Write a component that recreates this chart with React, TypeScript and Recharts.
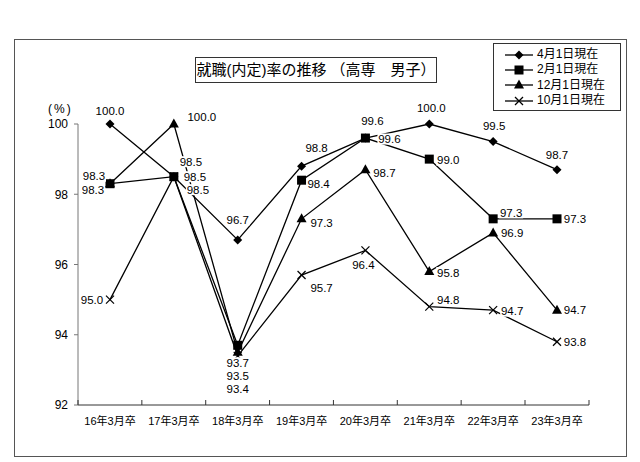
import { LineChart, Line, XAxis, YAxis, Legend } from "recharts";

// 卒業年度
const categories = [
  "16年3月卒",
  "17年3月卒",
  "18年3月卒",
  "19年3月卒",
  "20年3月卒",
  "21年3月卒",
  "22年3月卒",
  "23年3月卒",
];

// 各時点の就職（内定）率
const apr1 = [100.0, 98.5, 96.7, 98.8, 99.6, 100.0, 99.5, 98.7];
const feb1 = [98.3, 98.5, 93.7, 98.4, 99.6, 99.0, 97.3, 97.3];
const dec1 = [98.3, 100.0, 93.5, 97.3, 98.7, 95.8, 96.9, 94.7];
const oct1 = [95.0, 98.5, 93.4, 95.7, 96.4, 94.8, 94.7, 93.8];

const seriesNames = ["4月1日現在", "2月1日現在", "12月1日現在", "10月1日現在"];
const yTicks = [92, 94, 96, 98, 100];

const data = categories.map((name, i) => ({
  name,
  apr1: apr1[i],
  feb1: feb1[i],
  dec1: dec1[i],
  oct1: oct1[i],
}));

const KEYS = ["apr1", "feb1", "dec1", "oct1"];
const MARKERS = ["diamond", "square", "triangle", "cross"];
const HALF_BAND = 32;

// ラベル位置（点からのずれ）
const LABEL_OFFSETS: [number, number][][] = [
  [[0, -13], [17, -15], [0, -20], [15, -18], [7, -17], [2, -16], [1, -16], [0, -15]],
  [[-16, -7.5], [21, 0], [0, 17.5], [17, 4], [24, 1], [19, 1], [18, -6], [18, 0]],
  [[-17, 6], [28, -7], [0, 23.5], [20, 4], [19, 3], [19, 1], [19, 0], [18, 0]],
  [[-18, 0], [24, 13], [0, 33], [20, 13], [-2, 15], [19, -7], [19, 1], [18, 0]],
];

const FONT = '"Liberation Sans", "Noto Sans CJK JP", sans-serif';

const Marker = ({ kind, cx, cy }: { kind: string; cx: number; cy: number }) => {
  if (kind === "diamond") {
    const r = 4.5;
    return (
      <polygon
        points={`${cx},${cy - r} ${cx + r},${cy} ${cx},${cy + r} ${cx - r},${cy}`}
        fill="#000"
      />
    );
  }
  if (kind === "square") {
    return <rect x={cx - 4.5} y={cy - 4.5} width={9} height={9} fill="#000" />;
  }
  if (kind === "triangle") {
    return (
      <polygon
        points={`${cx},${cy - 5.5} ${cx + 5},${cy + 3.5} ${cx - 5},${cy + 3.5}`}
        fill="#000"
      />
    );
  }
  return (
    <g stroke="#000" strokeWidth={1.2}>
      <line x1={cx - 4} y1={cy - 4} x2={cx + 4} y2={cy + 4} />
      <line x1={cx - 4} y1={cy + 4} x2={cx + 4} y2={cy - 4} />
    </g>
  );
};

const makeDot = (s: number) => (p: any) => (
  <Marker key={`dot-${s}-${p.index}`} kind={MARKERS[s]} cx={p.cx} cy={p.cy} />
);

const makeLabel = (s: number) => (p: any) => {
  const [dx, dy] = LABEL_OFFSETS[s][p.index];
  const text = Number(p.payload[KEYS[s]]).toFixed(1);
  const w = text.length * 6;
  const x = p.cx + dx;
  const y = p.cy + dy;
  return (
    <g key={`lbl-${s}-${p.index}`}>
      <rect x={x - w / 2} y={y - 5.5} width={w} height={11} fill="#fff" />
      <text
        x={x}
        y={y}
        textAnchor="middle"
        dominantBaseline="central"
        fontSize={11.5}
        fontFamily={FONT}
        fill="#000"
      >
        {text}
      </text>
    </g>
  );
};

// 区切り目盛り付きのカテゴリラベル
const CategoryTick = (p: any) => {
  const last = p.index === categories.length - 1;
  return (
    <g>
      <line x1={p.x - HALF_BAND} y1={p.y} x2={p.x - HALF_BAND} y2={p.y - 5} stroke="#333" />
      {last && (
        <line x1={p.x + HALF_BAND} y1={p.y} x2={p.x + HALF_BAND} y2={p.y - 5} stroke="#333" />
      )}
      <text
        x={p.x}
        y={p.y + 16}
        textAnchor="middle"
        dominantBaseline="central"
        fontSize={11}
        fontFamily={FONT}
        fill="#000"
      >
        {p.payload.value}
      </text>
    </g>
  );
};

const renderLegend = () => (
  <div
    style={{
      boxSizing: "border-box",
      border: "1px solid #333",
      background: "#fff",
      width: 128,
      height: 68,
      padding: "3px 0",
      fontFamily: FONT,
      fontSize: 12,
      color: "#000",
    }}
  >
    {seriesNames.map((name, s) => (
      <div key={name} style={{ display: "flex", alignItems: "center", height: 15.3 }}>
        <svg width={43} height={12} style={{ flex: "none" }}>
          <line x1={11} y1={6} x2={39} y2={6} stroke="#000" strokeWidth={1.3} />
          <Marker kind={MARKERS[s]} cx={25} cy={6} />
        </svg>
        <span style={{ lineHeight: "15px" }}>{name}</span>
      </div>
    ))}
  </div>
);

const App = () => {
  return (
    <div
      style={{
        position: "absolute",
        left: 0,
        top: 0,
        width: 640,
        height: 462,
        background: "#fff",
        fontFamily: FONT,
      }}
    >
      {/* 外枠 */}
      <div
        style={{
          position: "absolute",
          left: 14,
          top: 39,
          width: 613,
          height: 418,
          boxSizing: "border-box",
          border: "1.5px solid #555",
        }}
      />
      <LineChart
        width={640}
        height={462}
        data={data}
        margin={{ top: 124, right: 51, left: 38, bottom: 27 }}
        style={{ position: "absolute", left: 0, top: 0 }}
      >
        <XAxis
          dataKey="name"
          height={30}
          padding={{ left: HALF_BAND, right: HALF_BAND }}
          stroke="#333"
          tickLine={false}
          tickSize={0}
          tickMargin={0}
          interval={0}
          tick={CategoryTick}
        />
        <YAxis
          width={40}
          domain={[92, 100]}
          ticks={yTicks}
          tickSize={4}
          tickMargin={6}
          stroke="#777"
          tick={{ fontSize: 12, fill: "#000", fontFamily: FONT }}
        />
        <Legend
          layout="vertical"
          align="center"
          verticalAlign="middle"
          content={renderLegend}
          wrapperStyle={{ left: 493, top: 43, width: 128, height: 68 }}
        />
        {KEYS.map((k, s) => (
          <Line
            key={k}
            dataKey={k}
            name={seriesNames[s]}
            stroke="#000"
            strokeWidth={1.3}
            dot={makeDot(s)}
            activeDot={false}
            isAnimationActive={false}
          />
        ))}
        {KEYS.map((k, s) => (
          <Line
            key={`lbl-${k}`}
            dataKey={k}
            stroke="none"
            legendType="none"
            dot={makeLabel(s)}
            activeDot={false}
            isAnimationActive={false}
          />
        ))}
      </LineChart>
      <div
        style={{
          position: "absolute",
          left: 48,
          top: 102,
          fontSize: 12,
          letterSpacing: 2,
          color: "#000",
        }}
      >
        (%)
      </div>
      <div
        style={{
          position: "absolute",
          left: 195,
          top: 57,
          width: 242,
          height: 26,
          boxSizing: "border-box",
          border: "1px solid #333",
          background: "#fff",
          fontSize: 15,
          lineHeight: "24px",
          textAlign: "center",
          color: "#000",
          whiteSpace: "nowrap",
        }}
      >
        就職(内定)率の推移 （高専　男子）
      </div>
    </div>
  );
};

export default App;
